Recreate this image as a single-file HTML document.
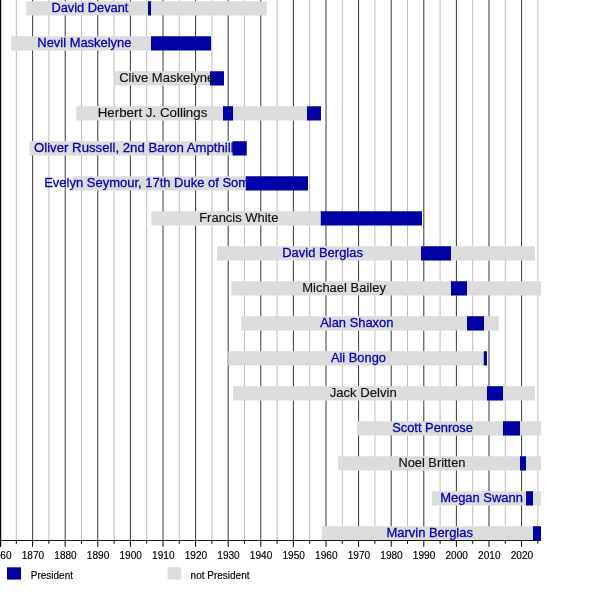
<!DOCTYPE html>
<html><head><meta charset="utf-8"><title>Timeline</title>
<style>
html,body{margin:0;padding:0;background:#fff;}
body{width:600px;height:600px;overflow:hidden;}
svg{display:block;}
text{font-family:"Liberation Sans",sans-serif;}
.n{font-size:13.7px;}
.t{font-size:10.1px;fill:#000;stroke:#000;stroke-width:0.15px;}
.l{font-size:10px;fill:#000;stroke:#000;stroke-width:0.15px;}
</style></head><body>
<svg width="600" height="600" viewBox="0 0 600 600">
<rect x="0" y="0" width="600" height="600" fill="#fff"/>

<line x1="16.30" y1="0" x2="16.30" y2="540.5" stroke="#bdbdbd" stroke-width="1"/>
<line x1="32.60" y1="0" x2="32.60" y2="540.5" stroke="#222" stroke-width="0.9"/>
<line x1="48.90" y1="0" x2="48.90" y2="540.5" stroke="#bdbdbd" stroke-width="1"/>
<line x1="65.20" y1="0" x2="65.20" y2="540.5" stroke="#222" stroke-width="0.9"/>
<line x1="81.50" y1="0" x2="81.50" y2="540.5" stroke="#bdbdbd" stroke-width="1"/>
<line x1="97.80" y1="0" x2="97.80" y2="540.5" stroke="#222" stroke-width="0.9"/>
<line x1="114.10" y1="0" x2="114.10" y2="540.5" stroke="#bdbdbd" stroke-width="1"/>
<line x1="130.40" y1="0" x2="130.40" y2="540.5" stroke="#222" stroke-width="0.9"/>
<line x1="146.70" y1="0" x2="146.70" y2="540.5" stroke="#bdbdbd" stroke-width="1"/>
<line x1="163.00" y1="0" x2="163.00" y2="540.5" stroke="#222" stroke-width="0.9"/>
<line x1="179.30" y1="0" x2="179.30" y2="540.5" stroke="#bdbdbd" stroke-width="1"/>
<line x1="195.60" y1="0" x2="195.60" y2="540.5" stroke="#222" stroke-width="0.9"/>
<line x1="211.90" y1="0" x2="211.90" y2="540.5" stroke="#bdbdbd" stroke-width="1"/>
<line x1="228.20" y1="0" x2="228.20" y2="540.5" stroke="#222" stroke-width="0.9"/>
<line x1="244.50" y1="0" x2="244.50" y2="540.5" stroke="#bdbdbd" stroke-width="1"/>
<line x1="260.80" y1="0" x2="260.80" y2="540.5" stroke="#222" stroke-width="0.9"/>
<line x1="277.10" y1="0" x2="277.10" y2="540.5" stroke="#bdbdbd" stroke-width="1"/>
<line x1="293.40" y1="0" x2="293.40" y2="540.5" stroke="#222" stroke-width="0.9"/>
<line x1="309.70" y1="0" x2="309.70" y2="540.5" stroke="#bdbdbd" stroke-width="1"/>
<line x1="326.00" y1="0" x2="326.00" y2="540.5" stroke="#222" stroke-width="0.9"/>
<line x1="342.30" y1="0" x2="342.30" y2="540.5" stroke="#bdbdbd" stroke-width="1"/>
<line x1="358.60" y1="0" x2="358.60" y2="540.5" stroke="#222" stroke-width="0.9"/>
<line x1="374.90" y1="0" x2="374.90" y2="540.5" stroke="#bdbdbd" stroke-width="1"/>
<line x1="391.20" y1="0" x2="391.20" y2="540.5" stroke="#222" stroke-width="0.9"/>
<line x1="407.50" y1="0" x2="407.50" y2="540.5" stroke="#bdbdbd" stroke-width="1"/>
<line x1="423.80" y1="0" x2="423.80" y2="540.5" stroke="#222" stroke-width="0.9"/>
<line x1="440.10" y1="0" x2="440.10" y2="540.5" stroke="#bdbdbd" stroke-width="1"/>
<line x1="456.40" y1="0" x2="456.40" y2="540.5" stroke="#222" stroke-width="0.9"/>
<line x1="472.70" y1="0" x2="472.70" y2="540.5" stroke="#bdbdbd" stroke-width="1"/>
<line x1="489.00" y1="0" x2="489.00" y2="540.5" stroke="#222" stroke-width="0.9"/>
<line x1="505.30" y1="0" x2="505.30" y2="540.5" stroke="#bdbdbd" stroke-width="1"/>
<line x1="521.60" y1="0" x2="521.60" y2="540.5" stroke="#222" stroke-width="0.9"/>
<line x1="537.90" y1="0" x2="537.90" y2="540.5" stroke="#bdbdbd" stroke-width="1"/>
<rect x="26.25" y="1.25" width="240.50" height="14.25" fill="#dcdcdc"/>
<rect x="148" y="1.25" width="3.00" height="14.25" fill="#0000a2"/>
<rect x="11.25" y="36.25" width="139.75" height="14.25" fill="#dcdcdc"/>
<rect x="151" y="36.25" width="60.00" height="14.25" fill="#0000a2"/>
<rect x="114.5" y="71.25" width="95.50" height="14.25" fill="#dcdcdc"/>
<rect x="210" y="71.25" width="14.00" height="14.25" fill="#0000a2"/>
<rect x="76.25" y="106.25" width="230.75" height="14.25" fill="#dcdcdc"/>
<rect x="223" y="106.25" width="10.00" height="14.25" fill="#0000a2"/>
<rect x="307" y="106.25" width="14.00" height="14.25" fill="#0000a2"/>
<rect x="29.5" y="141.25" width="203.00" height="14.25" fill="#dcdcdc"/>
<rect x="232.5" y="141.25" width="14.25" height="14.25" fill="#0000a2"/>
<rect x="72.5" y="176.25" width="173.25" height="14.25" fill="#dcdcdc"/>
<rect x="245.75" y="176.25" width="62.25" height="14.25" fill="#0000a2"/>
<rect x="151.25" y="211.25" width="169.50" height="14.25" fill="#dcdcdc"/>
<rect x="320.75" y="211.25" width="101.25" height="14.25" fill="#0000a2"/>
<rect x="217" y="246.25" width="318.00" height="14.25" fill="#dcdcdc"/>
<rect x="421" y="246.25" width="30.00" height="14.25" fill="#0000a2"/>
<rect x="231.25" y="281.25" width="309.75" height="14.25" fill="#dcdcdc"/>
<rect x="451" y="281.25" width="16.00" height="14.25" fill="#0000a2"/>
<rect x="241.25" y="316.25" width="257.50" height="14.25" fill="#dcdcdc"/>
<rect x="467" y="316.25" width="17.00" height="14.25" fill="#0000a2"/>
<rect x="228.25" y="351.25" width="255.50" height="14.25" fill="#dcdcdc"/>
<rect x="483.75" y="351.25" width="3.25" height="14.25" fill="#0000a2"/>
<rect x="233" y="386.25" width="302.00" height="14.25" fill="#dcdcdc"/>
<rect x="487" y="386.25" width="16.00" height="14.25" fill="#0000a2"/>
<rect x="357" y="421.25" width="184.00" height="14.25" fill="#dcdcdc"/>
<rect x="503" y="421.25" width="17.00" height="14.25" fill="#0000a2"/>
<rect x="338" y="456.25" width="203.00" height="14.25" fill="#dcdcdc"/>
<rect x="520" y="456.25" width="6.00" height="14.25" fill="#0000a2"/>
<rect x="432" y="491.25" width="109.00" height="14.25" fill="#dcdcdc"/>
<rect x="526" y="491.25" width="7.00" height="14.25" fill="#0000a2"/>
<rect x="322" y="526.25" width="219.00" height="14.25" fill="#dcdcdc"/>
<rect x="533" y="526.25" width="8.00" height="14.25" fill="#0000a2"/>
<rect x="0" y="540" width="541" height="0.9" fill="#000"/>
<rect x="0" y="0" width="1.2" height="546.8" fill="#000"/>
<line x1="0.00" y1="540.5" x2="0.00" y2="546.8" stroke="#000" stroke-width="1"/>
<text class="t" x="0.30" y="558.6" text-anchor="middle">1860</text>
<line x1="16.30" y1="540.5" x2="16.30" y2="543.8" stroke="#000" stroke-width="1"/>
<line x1="32.60" y1="540.5" x2="32.60" y2="546.8" stroke="#000" stroke-width="1"/>
<text class="t" x="32.90" y="558.6" text-anchor="middle">1870</text>
<line x1="48.90" y1="540.5" x2="48.90" y2="543.8" stroke="#000" stroke-width="1"/>
<line x1="65.20" y1="540.5" x2="65.20" y2="546.8" stroke="#000" stroke-width="1"/>
<text class="t" x="65.50" y="558.6" text-anchor="middle">1880</text>
<line x1="81.50" y1="540.5" x2="81.50" y2="543.8" stroke="#000" stroke-width="1"/>
<line x1="97.80" y1="540.5" x2="97.80" y2="546.8" stroke="#000" stroke-width="1"/>
<text class="t" x="98.10" y="558.6" text-anchor="middle">1890</text>
<line x1="114.10" y1="540.5" x2="114.10" y2="543.8" stroke="#000" stroke-width="1"/>
<line x1="130.40" y1="540.5" x2="130.40" y2="546.8" stroke="#000" stroke-width="1"/>
<text class="t" x="130.70" y="558.6" text-anchor="middle">1900</text>
<line x1="146.70" y1="540.5" x2="146.70" y2="543.8" stroke="#000" stroke-width="1"/>
<line x1="163.00" y1="540.5" x2="163.00" y2="546.8" stroke="#000" stroke-width="1"/>
<text class="t" x="163.30" y="558.6" text-anchor="middle">1910</text>
<line x1="179.30" y1="540.5" x2="179.30" y2="543.8" stroke="#000" stroke-width="1"/>
<line x1="195.60" y1="540.5" x2="195.60" y2="546.8" stroke="#000" stroke-width="1"/>
<text class="t" x="195.90" y="558.6" text-anchor="middle">1920</text>
<line x1="211.90" y1="540.5" x2="211.90" y2="543.8" stroke="#000" stroke-width="1"/>
<line x1="228.20" y1="540.5" x2="228.20" y2="546.8" stroke="#000" stroke-width="1"/>
<text class="t" x="228.50" y="558.6" text-anchor="middle">1930</text>
<line x1="244.50" y1="540.5" x2="244.50" y2="543.8" stroke="#000" stroke-width="1"/>
<line x1="260.80" y1="540.5" x2="260.80" y2="546.8" stroke="#000" stroke-width="1"/>
<text class="t" x="261.10" y="558.6" text-anchor="middle">1940</text>
<line x1="277.10" y1="540.5" x2="277.10" y2="543.8" stroke="#000" stroke-width="1"/>
<line x1="293.40" y1="540.5" x2="293.40" y2="546.8" stroke="#000" stroke-width="1"/>
<text class="t" x="293.70" y="558.6" text-anchor="middle">1950</text>
<line x1="309.70" y1="540.5" x2="309.70" y2="543.8" stroke="#000" stroke-width="1"/>
<line x1="326.00" y1="540.5" x2="326.00" y2="546.8" stroke="#000" stroke-width="1"/>
<text class="t" x="326.30" y="558.6" text-anchor="middle">1960</text>
<line x1="342.30" y1="540.5" x2="342.30" y2="543.8" stroke="#000" stroke-width="1"/>
<line x1="358.60" y1="540.5" x2="358.60" y2="546.8" stroke="#000" stroke-width="1"/>
<text class="t" x="358.90" y="558.6" text-anchor="middle">1970</text>
<line x1="374.90" y1="540.5" x2="374.90" y2="543.8" stroke="#000" stroke-width="1"/>
<line x1="391.20" y1="540.5" x2="391.20" y2="546.8" stroke="#000" stroke-width="1"/>
<text class="t" x="391.50" y="558.6" text-anchor="middle">1980</text>
<line x1="407.50" y1="540.5" x2="407.50" y2="543.8" stroke="#000" stroke-width="1"/>
<line x1="423.80" y1="540.5" x2="423.80" y2="546.8" stroke="#000" stroke-width="1"/>
<text class="t" x="424.10" y="558.6" text-anchor="middle">1990</text>
<line x1="440.10" y1="540.5" x2="440.10" y2="543.8" stroke="#000" stroke-width="1"/>
<line x1="456.40" y1="540.5" x2="456.40" y2="546.8" stroke="#000" stroke-width="1"/>
<text class="t" x="456.70" y="558.6" text-anchor="middle">2000</text>
<line x1="472.70" y1="540.5" x2="472.70" y2="543.8" stroke="#000" stroke-width="1"/>
<line x1="489.00" y1="540.5" x2="489.00" y2="546.8" stroke="#000" stroke-width="1"/>
<text class="t" x="489.30" y="558.6" text-anchor="middle">2010</text>
<line x1="505.30" y1="540.5" x2="505.30" y2="543.8" stroke="#000" stroke-width="1"/>
<line x1="521.60" y1="540.5" x2="521.60" y2="546.8" stroke="#000" stroke-width="1"/>
<text class="t" x="521.90" y="558.6" text-anchor="middle">2020</text>
<line x1="537.90" y1="540.5" x2="537.90" y2="543.8" stroke="#000" stroke-width="1"/>
<text class="n" x="51.45" y="11.75" fill="#0000b8" stroke="#0000b8" stroke-width="0.3" textLength="77.00" lengthAdjust="spacingAndGlyphs">David Devant</text>
<text class="n" x="37.30" y="46.75" fill="#0000b8" stroke="#0000b8" stroke-width="0.3" textLength="94.15" lengthAdjust="spacingAndGlyphs">Nevil Maskelyne</text>
<text class="n" x="119.20" y="81.75" fill="#111" stroke="#111" stroke-width="0.15" textLength="95.00" lengthAdjust="spacingAndGlyphs">Clive Maskelyne</text>
<text class="n" x="97.70" y="116.75" fill="#111" stroke="#111" stroke-width="0.15" textLength="109.70" lengthAdjust="spacingAndGlyphs">Herbert J. Collings</text>
<text class="n" x="33.95" y="151.75" fill="#0000b8" stroke="#0000b8" stroke-width="0.3" textLength="199.75" lengthAdjust="spacingAndGlyphs">Oliver Russell, 2nd Baron Ampthill</text>
<text class="n" x="44.20" y="186.75" fill="#0000b8" stroke="#0000b8" stroke-width="0.3" textLength="233.80" lengthAdjust="spacingAndGlyphs">Evelyn Seymour, 17th Duke of Somerset</text>
<text class="n" x="199.20" y="221.75" fill="#111" stroke="#111" stroke-width="0.15" textLength="79.25" lengthAdjust="spacingAndGlyphs">Francis White</text>
<text class="n" x="282.20" y="256.75" fill="#0000b8" stroke="#0000b8" stroke-width="0.3" textLength="80.75" lengthAdjust="spacingAndGlyphs">David Berglas</text>
<text class="n" x="302.20" y="291.75" fill="#111" stroke="#111" stroke-width="0.15" textLength="83.75" lengthAdjust="spacingAndGlyphs">Michael Bailey</text>
<text class="n" x="320.20" y="326.75" fill="#0000b8" stroke="#0000b8" stroke-width="0.3" textLength="73.25" lengthAdjust="spacingAndGlyphs">Alan Shaxon</text>
<text class="n" x="330.95" y="361.75" fill="#0000b8" stroke="#0000b8" stroke-width="0.3" textLength="55.00" lengthAdjust="spacingAndGlyphs">Ali Bongo</text>
<text class="n" x="329.70" y="396.75" fill="#111" stroke="#111" stroke-width="0.15" textLength="67.00" lengthAdjust="spacingAndGlyphs">Jack Delvin</text>
<text class="n" x="392.20" y="431.75" fill="#0000b8" stroke="#0000b8" stroke-width="0.3" textLength="80.75" lengthAdjust="spacingAndGlyphs">Scott Penrose</text>
<text class="n" x="398.45" y="466.75" fill="#111" stroke="#111" stroke-width="0.15" textLength="67.00" lengthAdjust="spacingAndGlyphs">Noel Britten</text>
<text class="n" x="440.20" y="501.75" fill="#0000b8" stroke="#0000b8" stroke-width="0.3" textLength="82.75" lengthAdjust="spacingAndGlyphs">Megan Swann</text>
<text class="n" x="386.45" y="536.75" fill="#0000b8" stroke="#0000b8" stroke-width="0.3" textLength="86.50" lengthAdjust="spacingAndGlyphs">Marvin Berglas</text>
<rect x="7" y="567.3" width="14" height="12.3" fill="#0000a2"/>
<text class="l" x="30.75" y="578.5">President</text>
<rect x="167.6" y="567.3" width="13.6" height="12.3" fill="#dcdcdc"/>
<text class="l" x="190.6" y="578.5">not President</text>
</svg>
</body></html>
